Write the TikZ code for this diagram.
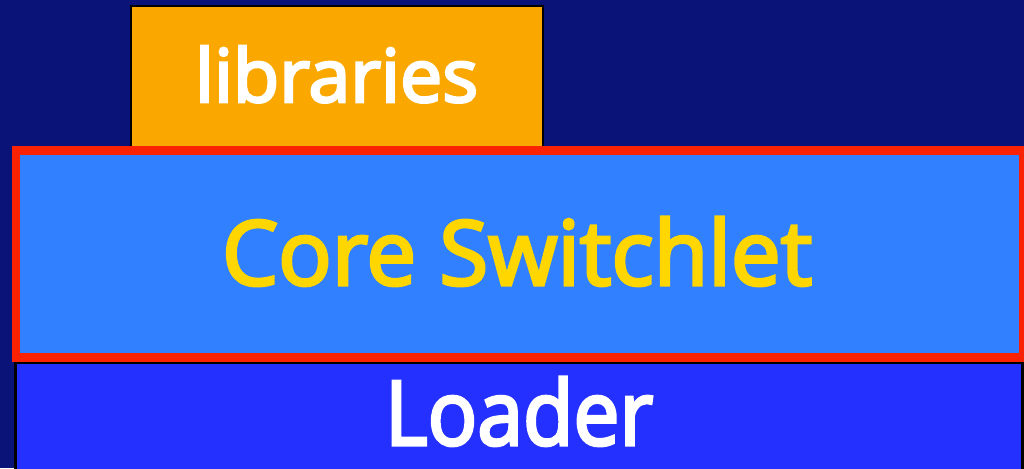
\documentclass[tikz,border=0pt]{standalone}
\usepackage{fontspec}
\setmainfont{Open Sans}
\newfontfamily\labelfont[FakeBold=3.5]{Open Sans}
\usepackage{graphicx}
\definecolor{bgnavy}{RGB}{10,20,120}
\definecolor{liborange}{RGB}{250,168,0}
\definecolor{coreblue}{RGB}{48,128,255}
\definecolor{corered}{RGB}{250,34,0}
\definecolor{loaderblue}{RGB}{36,48,255}
\definecolor{coretext}{RGB}{255,214,0}
\begin{document}
\begin{tikzpicture}[x=1pt,y=-1pt,
  layerbox/.style={rectangle,inner sep=0pt,outer sep=0pt,anchor=north west},
  label/.style={inner sep=0pt,outer sep=0pt,anchor=base west}]
\fill[bgnavy] (0,0) rectangle (1024,468);
\useasboundingbox (0,0) rectangle (1024,468);
% libraries
\node[layerbox,draw=black,line width=2pt,fill=liborange,minimum width=412.5pt,minimum height=146pt] (lib) at (130.5,6) {};
% loader
\node[layerbox,draw=black,line width=3pt,fill=loaderblue,minimum width=1007pt,minimum height=120pt] (loader) at (15,362) {};
% core
\node[layerbox,draw=corered,line width=8.5pt,fill=coreblue,minimum width=1007pt,minimum height=207pt] (core) at (16,150.5) {};
% labels
\node[label,text=white] (libtext) at (195,102) {\resizebox{283pt}{56pt}{\labelfont libraries}};
\node[label,text=coretext] (coretxt) at (222,285) {\resizebox{590pt}{68pt}{\labelfont Core Switchlet}};
\node[label,text=white] (loadertext) at (385,445) {\resizebox{268pt}{68pt}{\labelfont Loader}};
\end{tikzpicture}
\end{document}
